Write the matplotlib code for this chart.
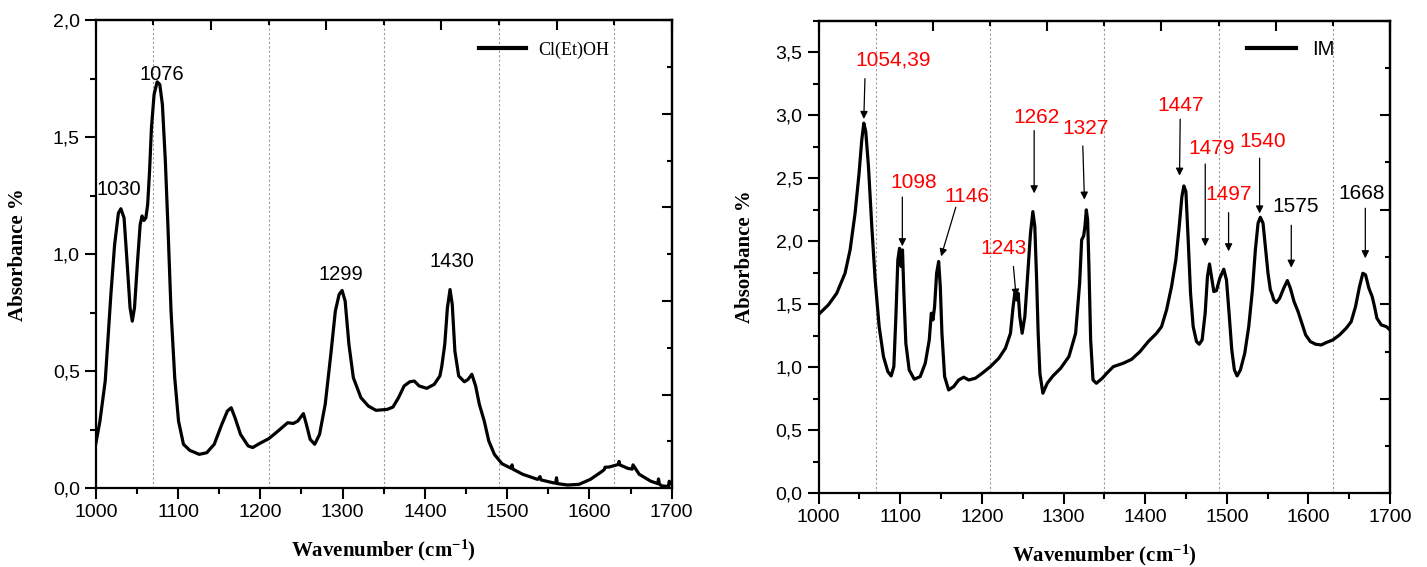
import numpy as np
import matplotlib as mpl
mpl.use('Agg')
import matplotlib.pyplot as plt
from matplotlib.ticker import FuncFormatter, MultipleLocator, FixedLocator

# Cl(Et)OH spectrum (wavenumber, absorbance)
clet_x = [1000, 1005, 1011.5, 1018.4, 1022.9, 1027.5, 1030.5, 1034.4, 1038, 1041.7, 1044.4,
          1047.1, 1050.8, 1054, 1056.3, 1058.6, 1060.9, 1063.1, 1065.4, 1067.7, 1070.9,
          1074.6, 1077.8, 1081, 1084.6, 1087.8, 1091.5, 1096, 1100.6, 1106.6, 1114.3,
          1125.8, 1134.9, 1144, 1153.2, 1160, 1164.6, 1169.2, 1176, 1185.2, 1190.7,
          1198.9, 1210.3, 1221.7, 1233.2, 1240, 1245.5, 1252.4, 1256, 1260.6, 1266.1,
          1272, 1278.9, 1285.7, 1291.2, 1295.8, 1299.4, 1303.1, 1307.7, 1313.1, 1322.3,
          1331.4, 1340.6, 1354.3, 1361.2, 1368, 1374.8, 1381.7, 1387.2, 1393.1, 1402.3,
          1411.4, 1418.3, 1420.6, 1424.2, 1427.4, 1430.6, 1433.3, 1436.5, 1441.1, 1448,
          1452.5, 1457.1, 1461.7, 1466.2, 1472.2, 1477.7, 1484.5, 1493.7, 1505.1, 1506,
          1507, 1518.8, 1537.1, 1540, 1541, 1555.4, 1559, 1560, 1561, 1573.7,
          1587.4, 1601.1, 1614.8, 1618, 1619, 1624, 1635.4, 1636, 1637, 1646.8,
          1652, 1653, 1660.5, 1674.2, 1683, 1684, 1685, 1688, 1696, 1697, 1700]
clet_y = [0.19, 0.285, 0.458, 0.828, 1.04, 1.175, 1.194, 1.155, 0.97, 0.771, 0.714,
          0.771, 0.97, 1.127, 1.163, 1.144, 1.155, 1.212, 1.355, 1.54, 1.682,
          1.736, 1.725, 1.639, 1.397, 1.113, 0.757, 0.472, 0.287, 0.188, 0.162,
          0.145, 0.152, 0.188, 0.273, 0.33, 0.344, 0.302, 0.23, 0.181, 0.174,
          0.191, 0.212, 0.245, 0.28, 0.277, 0.287, 0.319, 0.273, 0.209, 0.188,
          0.23, 0.359, 0.572, 0.757, 0.828, 0.845, 0.8, 0.615, 0.472, 0.387,
          0.351, 0.333, 0.337, 0.347, 0.387, 0.437, 0.455, 0.458, 0.437, 0.427,
          0.444, 0.48, 0.522, 0.615, 0.771, 0.849, 0.785, 0.586, 0.48, 0.455,
          0.465, 0.487, 0.437, 0.359, 0.287, 0.202, 0.145, 0.105, 0.085, 0.1,
          0.082, 0.06, 0.038, 0.05, 0.036, 0.024, 0.022, 0.045, 0.02, 0.014,
          0.017, 0.038, 0.071, 0.08, 0.09, 0.091, 0.102, 0.115, 0.1, 0.085,
          0.082, 0.1, 0.06, 0.031, 0.02, 0.04, 0.018, 0.01, 0.008, 0.03, 0.017]

# IM spectrum (wavenumber, absorbance)
im_x = [1000, 1011.9, 1022.1, 1032.3, 1038.5, 1044.6, 1049.5, 1052.8, 1055.3, 1057.7,
        1061, 1065.1, 1069.2, 1074.1, 1079.4, 1084.7, 1088.8, 1092.1, 1094.6, 1097,
        1099.1, 1101.1, 1102.7, 1104.4, 1106.8, 1110.9, 1117.1, 1124.4, 1130.6, 1135.5,
        1138, 1140, 1142, 1144.5, 1147, 1149, 1151, 1154.3, 1159.2, 1165.4,
        1171.5, 1177.7, 1183.8, 1192, 1200.2, 1210.4, 1220.6, 1228.8, 1235, 1238.2,
        1240.3, 1242.7, 1244.4, 1246.4, 1249.3, 1252.6, 1256.2, 1259.5, 1262.4, 1264.8,
        1266.9, 1268.9, 1271, 1274.7, 1280, 1287, 1296.4, 1306.6, 1314.8, 1319.7,
        1322.2, 1324.6, 1326.2, 1327.9, 1329.5, 1331.1, 1333.2, 1336.1, 1340.2, 1347.5,
        1352.9, 1361, 1373.2, 1383.4, 1393.6, 1403.8, 1414, 1420.1, 1426.2, 1432.3,
        1437.6, 1441.7, 1445, 1447.4, 1449.9, 1452.7, 1455.6, 1458.8, 1462.9, 1466.2,
        1469.8, 1473.5, 1476.3, 1478.8, 1481.2, 1484.1, 1487.3, 1491.4, 1496.3, 1499.6,
        1502.8, 1506.1, 1509.3, 1512.6, 1516.7, 1522, 1526.9, 1531.4, 1535, 1538.3,
        1541.1, 1544.4, 1547.3, 1550.5, 1553.4, 1555.8, 1557.5, 1560.8, 1564.8, 1569.7,
        1574.2, 1577.9, 1582.4, 1587.3, 1591.3, 1596.6, 1602.3, 1608.8, 1615.7, 1621.8,
        1630, 1638.2, 1646.3, 1652.4, 1657.7, 1662.6, 1666.7, 1670, 1674.1, 1678.1,
        1681, 1683.9, 1689.2, 1695.3, 1700]
im_y = [1.42, 1.495, 1.587, 1.746, 1.931, 2.222, 2.54, 2.804, 2.937, 2.87,
        2.593, 2.116, 1.693, 1.323, 1.085, 0.966, 0.931, 1.005, 1.402, 1.852,
        1.944, 1.799, 1.931, 1.587, 1.19, 0.979, 0.905, 0.926, 1.032, 1.217,
        1.429, 1.376, 1.481, 1.746, 1.839, 1.64, 1.27, 0.926, 0.82, 0.847,
        0.899, 0.921, 0.899, 0.913, 0.952, 1.005, 1.071, 1.151, 1.27, 1.481,
        1.587, 1.534, 1.587, 1.402, 1.27, 1.402, 1.746, 2.063, 2.235, 2.116,
        1.72, 1.27, 0.952, 0.794, 0.873, 0.931, 0.992, 1.085, 1.27, 1.667,
        2.011, 2.042, 2.116, 2.249, 2.169, 1.799, 1.217, 0.899, 0.873, 0.913,
        0.952, 1.005, 1.032, 1.063, 1.124, 1.204, 1.27, 1.323, 1.455, 1.64,
        1.852, 2.116, 2.354, 2.439, 2.394, 2.011, 1.587, 1.323, 1.204, 1.183,
        1.217, 1.429, 1.72, 1.82, 1.72, 1.601, 1.608, 1.706, 1.778, 1.693,
        1.429, 1.138, 0.979, 0.931, 0.979, 1.111, 1.323, 1.614, 1.931, 2.143,
        2.19, 2.143, 1.958, 1.746, 1.614, 1.574, 1.534, 1.513, 1.548, 1.627,
        1.688, 1.627, 1.521, 1.442, 1.362, 1.257, 1.204, 1.183, 1.177, 1.196,
        1.217, 1.257, 1.31, 1.362, 1.481, 1.64, 1.746, 1.733, 1.627, 1.561,
        1.481, 1.389, 1.336, 1.323, 1.296]

grid_x = [1070, 1210, 1350, 1490, 1630]

# left panel peak labels
clet_labels = ['1030', '1076', '1299', '1430']
clet_label_pos = [(1027.5, 1.276), (1080, 1.767), (1298.5, 0.913), (1432.9, 0.97)]

# right panel peak labels: text, colour, text position, arrow start, arrow tip
im_labels = ['1054,39', '1098', '1146', '1243', '1262', '1327', '1447', '1479',
             '1497', '1540', '1575', '1668']
im_label_col = ['red'] * 10 + ['black', 'black']
im_text_pos = [(1091.5, 3.44), (1116, 2.465), (1181.4, 2.354), (1226.3, 1.944),
               (1266.4, 2.984), (1327, 2.897), (1442.9, 3.08), (1481.8, 2.738),
               (1502.2, 2.367), (1544.3, 2.79), (1584, 2.275), (1665.7, 2.375)]
im_arrow_from = [(1056.7, 3.29), (1102.5, 2.35), (1168, 2.27), (1238.6, 1.8),
                 (1264, 2.878), (1323.6, 2.756), (1442.9, 2.968), (1473.6, 2.613),
                 (1502.2, 2.227), (1540.2, 2.659), (1579, 2.127), (1669.7, 2.262)]
im_arrow_to = [(1055.3, 2.97), (1102.5, 1.96), (1150, 1.88), (1241.9, 1.56),
               (1264, 2.38), (1325.6, 2.33), (1442.1, 2.52), (1473.6, 1.96),
               (1502.2, 1.92), (1540.2, 2.22), (1579, 1.79), (1669.7, 1.865)]

sans = 'Liberation Sans'
serif = 'Liberation Serif'
plt.rcParams['font.family'] = sans
plt.rcParams['mathtext.fontset'] = 'custom'
plt.rcParams['mathtext.rm'] = 'Liberation Serif:bold'
plt.rcParams['mathtext.bf'] = 'Liberation Serif:bold'
plt.rcParams['mathtext.it'] = 'Liberation Serif:bold'

comma = FuncFormatter(lambda v, p: ('%.1f' % v).replace('.', ','))

fig = plt.figure(figsize=(14.27, 5.67), dpi=100)
ax1 = fig.add_axes([0.0671, 0.1388, 0.4036, 0.8259])
ax2 = fig.add_axes([0.5737, 0.1300, 0.4004, 0.8335])


def style_axes(ax, ymax, ymajor, rmajor):
    ax.set_xlim(1000, 1700)
    ax.set_ylim(0, ymax)
    ax.xaxis.set_major_locator(MultipleLocator(100))
    ax.xaxis.set_minor_locator(MultipleLocator(50))
    ax.yaxis.set_major_locator(MultipleLocator(ymajor))
    ax.yaxis.set_minor_locator(MultipleLocator(ymajor / 2))
    ax.yaxis.set_major_formatter(comma)
    ax.tick_params(which='major', direction='out', length=8, width=1.5, labelsize=14)
    ax.tick_params(which='minor', direction='out', length=4.5, width=1.5)
    for s in ax.spines.values():
        s.set_linewidth(1.6)
    for gx in grid_x:
        ax.axvline(gx, color='#9a9a9a', lw=0.8, ls=(0, (2, 2)), zorder=0)
    top = ax.secondary_xaxis('top')
    top.xaxis.set_major_locator(FixedLocator([1000, 1140, 1280, 1420, 1560, 1700]))
    top.xaxis.set_minor_locator(FixedLocator(grid_x))
    top.tick_params(which='major', direction='in', length=7, width=1.5, labeltop=False)
    top.tick_params(which='minor', direction='in', length=3.5, width=1.5)
    right = ax.secondary_yaxis('right')
    right.yaxis.set_major_locator(MultipleLocator(rmajor))
    right.yaxis.set_minor_locator(MultipleLocator(rmajor / 2))
    right.tick_params(which='major', direction='in', length=7, width=1.5, labelright=False)
    right.tick_params(which='minor', direction='in', length=3.5, width=1.5)
    for s in list(top.spines.values()) + list(right.spines.values()):
        s.set_linewidth(1.6)
    ax.set_xlabel('Wavenumber (cm$^{-1}$)', family=serif, fontweight='bold', fontsize=15)
    ax.set_ylabel('Absorbance %', family=serif, fontweight='bold', fontsize=15)


style_axes(ax1, 2.0, 0.5, 0.4)
style_axes(ax2, 3.75, 0.5, 0.75)
ax1.xaxis.set_label_coords(0.5, -0.105)
ax1.yaxis.set_label_coords(-0.117, 0.5)
ax2.xaxis.set_label_coords(0.5, -0.104)
ax2.yaxis.set_label_coords(-0.111, 0.5)

ax1.plot(clet_x, clet_y, color='black', lw=2.3, solid_joinstyle='round', label='Cl(Et)OH')
ax2.plot(im_x, im_y, color='black', lw=2.3, solid_joinstyle='round', label='IM')

for txt, (tx, ty) in zip(clet_labels, clet_label_pos):
    ax1.text(tx, ty, txt, fontsize=14.5, ha='center', va='center')

for txt, col, tp, af, at in zip(im_labels, im_label_col, im_text_pos, im_arrow_from, im_arrow_to):
    ax2.text(tp[0], tp[1], txt, color=col, fontsize=15, ha='center', va='center')
    ax2.annotate('', xy=at, xytext=af,
                 arrowprops=dict(arrowstyle='-|>', color='black', lw=0.9,
                                 mutation_scale=11, shrinkA=0, shrinkB=0))

leg1 = ax1.legend(loc='center left', bbox_to_anchor=(0.665, 0.936), frameon=False,
                  borderpad=0, borderaxespad=0, handlelength=2.6, handletextpad=0.7,
                  prop={'family': serif, 'size': 13})
leg2 = ax2.legend(loc='center left', bbox_to_anchor=(0.75, 0.938), frameon=False,
                  borderpad=0, borderaxespad=0, handlelength=2.4, handletextpad=0.8,
                  prop={'family': sans, 'size': 14.5})
for lg in (leg1, leg2):
    for h in lg.get_lines():
        h.set_linewidth(3)

plt.savefig('out.png', dpi=100)
